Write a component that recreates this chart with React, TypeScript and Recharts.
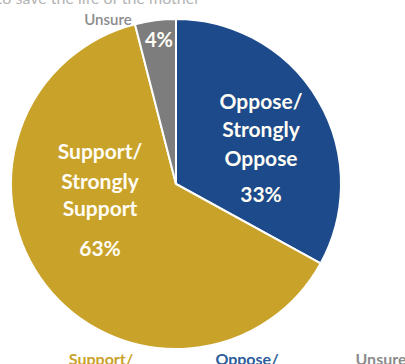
import React from "react";
import { PieChart, Pie, Cell, Customized } from "recharts";

// Share of respondents, clockwise from 12 o'clock
const categories = ["Oppose/ Strongly Oppose", "Support/ Strongly Support", "Unsure"];
const shares = [33, 63, 4];
const legendLabels = ["Support/", "Oppose/", "Unsure"];
const questionTail = "to save the life of the mother";

const COLORS = ["#1C4A8A", "#C9A22A", "#7D7D7D"];
const LEGEND_COLORS = ["#C9A22A", "#2E5C9A", "#8C8C8C"];
const FONT = "Lato, 'Open Sans', sans-serif";

const data = categories.map((name, i) => ({ name, value: shares[i] }));

// label block offsets from the pie centre (px)
const labelPos = [
  { dx: 85, lines: [-84, -56, -27], pct: 9 },
  { dx: -76, lines: [-34, -4, 23], pct: 63 },
  { dx: -17, lines: [], pct: -145 },
];

function SliceLabel(props: any) {
  const { cx, cy, index, value } = props;
  const pos = labelPos[index];
  const words = categories[index].split(" ");
  return (
    <g style={{ fontFamily: FONT, fontWeight: 700 }} fill="#FFFDF5">
      {pos.lines.map((dy, k) => (
        <text key={k} x={cx + pos.dx} y={cy + dy} textAnchor="middle" dominantBaseline="central" fontSize={21}>
          {words[k]}
        </text>
      ))}
      <text x={cx + pos.dx} y={cy + pos.pct} textAnchor="middle" dominantBaseline="central" fontSize={index === 2 ? 20 : 21}>
        {value}%
      </text>
      {index === 2 && (
        <text x={cx - 68} y={cy - 165} textAnchor="middle" dominantBaseline="central" fontSize={15} fill="#8C8C8C" fontWeight={600}>
          {categories[2]}
        </text>
      )}
    </g>
  );
}

function Extras() {
  const legendX = [101, 247, 381];
  return (
    <g style={{ fontFamily: FONT }}>
      <text x={200} y={4} textAnchor="end" fontSize={16} fill="#B4B4B4">{questionTail}</text>
      {legendLabels.map((t, i) => (
        <text key={t} x={legendX[i]} y={365} textAnchor="middle" fontSize={16} fontWeight={700} fill={LEGEND_COLORS[i]}>
          {t}
        </text>
      ))}
    </g>
  );
}

export default function App() {
  if (typeof document !== "undefined") document.body.style.margin = "0";
  return (
    <div style={{ width: 405, height: 364, background: "#fff" }}>
      <PieChart width={405} height={364} margin={{ top: 0, right: 0, bottom: 0, left: 0 }}>
        <Pie
          data={data}
          dataKey="value"
          nameKey="name"
          cx={176}
          cy={184}
          outerRadius={165}
          startAngle={90}
          endAngle={-270}
          stroke="#FFFFFF"
          strokeWidth={2}
          labelLine={false}
          label={SliceLabel}
          isAnimationActive={false}
        >
          {data.map((d, i) => (
            <Cell key={d.name} fill={COLORS[i]} />
          ))}
        </Pie>
        <Customized component={Extras} />
      </PieChart>
    </div>
  );
}
